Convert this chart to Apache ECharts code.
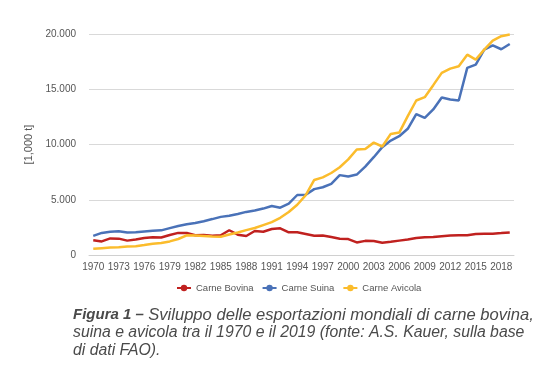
<!DOCTYPE html>
<html>
<head>
<meta charset="utf-8">
<script src="https://cdn.jsdelivr.net/npm/echarts@6/dist/echarts.min.js"></script>
<style>html,body{margin:0;padding:0;background:#fff;}#c{width:548px;height:382px;}</style>
</head>
<body>
<div id="c"></div>
<script>
const years = [];
for (let y = 1970; y <= 2019; y++) years.push(String(y));
const seriesNames = ['Carne Bovina', 'Carne Suina', 'Carne Avicola'];
const bovina = [1340,1230,1500,1480,1300,1400,1530,1610,1580,1810,2000,1990,1790,1820,1740,1790,2240,1840,1720,2170,2110,2350,2410,2050,2050,1900,1750,1760,1620,1470,1440,1140,1280,1260,1110,1200,1300,1400,1530,1600,1620,1700,1770,1780,1790,1900,1920,1930,1980,2040];
const suina = [1730,2000,2110,2150,2040,2050,2130,2200,2230,2430,2630,2790,2890,3060,3250,3450,3550,3710,3900,4020,4200,4440,4280,4640,5430,5450,5960,6130,6440,7230,7100,7280,8000,8850,9760,10360,10750,11420,12740,12410,13170,14250,14070,13980,16930,17230,18590,18980,18620,19100];
const avicola = [560,620,680,700,770,800,900,1020,1080,1230,1450,1780,1760,1720,1680,1650,1850,2030,2250,2440,2710,2980,3370,3890,4550,5420,6790,7030,7420,7940,8650,9550,9600,10170,9820,10960,11080,12570,13980,14280,15370,16480,16870,17080,18130,17680,18590,19400,19800,19950];
const colors = ['#c0211f', '#4a72b8', '#fbbc2c'];
const yTicks = [0, 5000, 10000, 15000, 20000];

const chart = echarts.init(document.getElementById('c'), null, {renderer: 'canvas'});
const fmt = v => v === 0 ? '0' : String(v).replace(/\B(?=(\d{3})+(?!\d))/g, '.');
const mk = (name, data, color) => ({
  name, type: 'line', data, symbol: 'circle', symbolSize: 6, showSymbol: false,
  lineStyle: {color, width: 2.5}, itemStyle: {color}, animation: false
});
const FF = 'Liberation Sans, Arial, sans-serif';
chart.setOption({
  animation: false,
  textStyle: {fontFamily: FF},
  grid: {left: 89, right: 34, top: 34, bottom: 127},
  xAxis: {
    type: 'category', data: years, boundaryGap: true,
    axisLine: {lineStyle: {color: '#d0d0d0'}},
    axisTick: {interval: 0, length: 4, lineStyle: {color: '#d0d0d0'}},
    axisLabel: {interval: 2, color: '#555', fontSize: 10, margin: 7}
  },
  yAxis: {
    type: 'value', min: yTicks[0], max: yTicks[yTicks.length - 1], interval: 5000,
    name: '[1,000 t]', nameLocation: 'middle', nameGap: 50, nameRotate: 90,
    nameTextStyle: {color: '#555', fontSize: 11},
    axisLine: {show: false}, axisTick: {show: false},
    axisLabel: {color: '#555', fontSize: 10, margin: 13, formatter: fmt},
    splitLine: {lineStyle: {color: '#d9d9d9'}}
  },
  legend: {
    data: seriesNames, left: 171, top: 278, itemWidth: 14, itemHeight: 8, itemGap: 8,
    textStyle: {color: '#555', fontSize: 9.5}
  },
  title: {
    left: 73, top: 306, padding: 0,
    text: '{b|Figura 1 –} {j|Sviluppo delle esportazioni mondiali di carne bovina,}\n{i|suina e avicola tra il 1970 e il 2019 (fonte: A.S. Kauer, sulla base}\n{i|di dati FAO).}',
    textStyle: {
      fontSize: 15.5, lineHeight: 18, color: '#4a4a4a', fontWeight: 'normal',
      rich: {
        b: {fontSize: 15, fontStyle: 'italic', fontWeight: 'bold', color: '#4a4a4a', lineHeight: 18, fontFamily: FF},
        j: {fontSize: 16.6, fontStyle: 'italic', fontWeight: 'normal', color: '#4a4a4a', lineHeight: 18, fontFamily: FF},
        i: {fontSize: 15.8, fontStyle: 'italic', fontWeight: 'normal', color: '#4a4a4a', lineHeight: 18, fontFamily: FF}
      }
    }
  },
  series: [mk(seriesNames[0], bovina, colors[0]), mk(seriesNames[1], suina, colors[1]), mk(seriesNames[2], avicola, colors[2])]
});
</script>
</body>
</html>
